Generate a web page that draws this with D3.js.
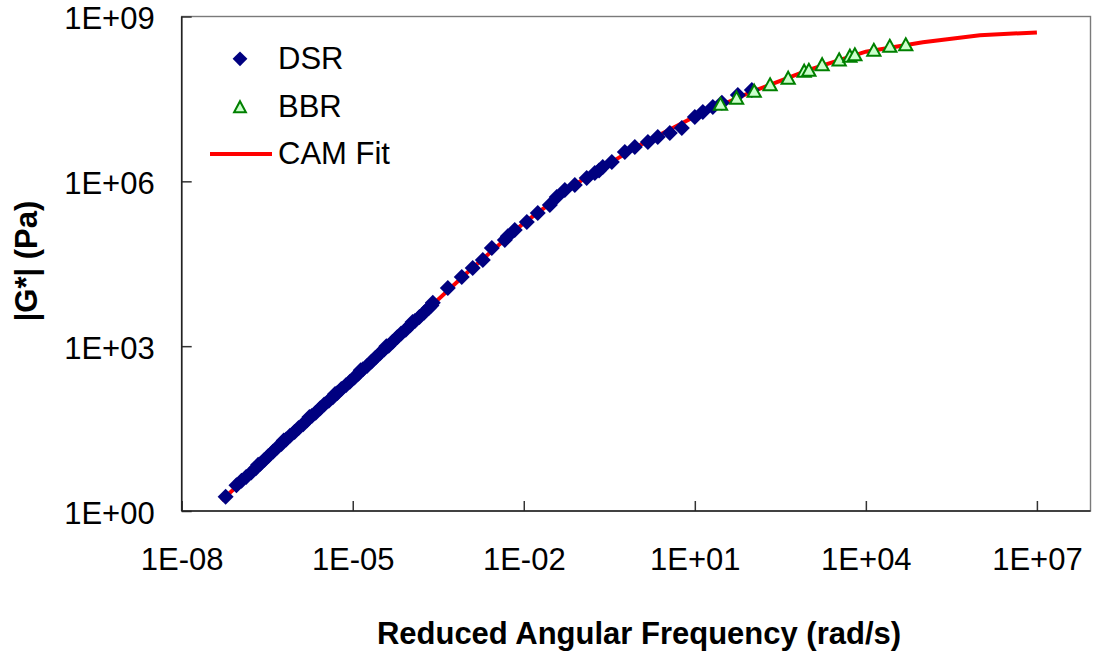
<!DOCTYPE html>
<html>
<head>
<meta charset="utf-8">
<script src="https://cdn.jsdelivr.net/npm/d3@7"></script>
<style>
  html, body { margin: 0; padding: 0; background: #fff; }
  svg { display: block; font-family: Arial, "Liberation Sans", sans-serif; }
</style>
</head>
<body>
<svg id="chart" width="1093" height="655"></svg>
<script>
// DSR master-curve data: reduced angular frequency (rad/s) and |G*| (Pa)
const dsrFreq = [
  5.89e-8, 9.12e-8, 1.12e-7, 1.35e-7, 1.66e-7, 2.00e-7, 2.19e-7, 2.40e-7, 2.82e-7, 3.31e-7,
  3.98e-7, 4.68e-7, 5.62e-7, 6.17e-7, 6.76e-7, 7.94e-7, 9.55e-7, 1.12e-6, 1.35e-6, 1.58e-6,
  1.74e-6, 1.91e-6, 2.24e-6, 2.69e-6, 3.16e-6, 3.80e-6, 4.47e-6, 4.90e-6, 5.37e-6, 6.31e-6,
  7.59e-6, 8.91e-6, 1.07e-5, 1.26e-5, 1.38e-5, 1.51e-5, 1.78e-5, 2.14e-5, 2.51e-5, 3.02e-5,
  3.55e-5, 3.89e-5, 4.27e-5, 5.01e-5, 6.03e-5, 7.08e-5, 8.51e-5, 1.02e-4, 1.12e-4, 1.23e-4,
  1.48e-4, 1.78e-4, 2.14e-4, 2.40e-4, 2.54e-4, 4.65e-4, 8.17e-4, 1.27e-3, 1.91e-3, 2.75e-3,
  4.65e-3, 5.25e-3, 6.95e-3, 1.13e-2, 1.76e-2, 2.86e-2, 3.79e-2, 5.24e-2, 7.85e-2, 0.127,
  0.176, 0.209, 0.243, 0.350, 0.592, 0.885, 1.50, 2.24, 3.64, 5.92,
  10.0, 13.8, 20.7, 29.8, 56.8, 100
];
const dsrModulus = [
  1.82, 2.95, 3.55, 4.17, 5.01, 6.03, 6.92, 7.24, 8.51, 10.0,
  12.0, 14.1, 16.6, 19.1, 20.0, 23.4, 27.5, 32.4, 38.0, 44.7,
  51.3, 53.7, 61.7, 74.1, 87.1, 102, 117, 135, 141, 166,
  195, 224, 269, 316, 363, 380, 437, 525, 617, 741,
  871, 1000, 1020, 1200, 1450, 1700, 2000, 2400, 2750, 2880,
  3390, 4070, 4900, 5500, 6170, 11400, 18100, 26400, 37000, 61100,
  85500, 1.00e5, 1.30e5, 1.82e5, 2.65e5, 3.71e5, 5.19e5, 6.97e5, 8.57e5, 1.15e6,
  1.42e6, 1.58e6, 1.82e6, 2.24e6, 3.41e6, 4.21e6, 5.19e6, 6.40e6, 7.57e6, 9.33e6,
  1.48e7, 1.82e7, 2.25e7, 2.69e7, 3.72e7, 4.59e7
];

// BBR data converted to the frequency domain
const bbrFreq = [28.2, 54.0, 110, 209, 434, 828, 1000, 1710, 3400, 5250, 6410, 13800, 26300, 50100];
const bbrModulus = [2.55e7, 3.29e7, 4.41e7, 5.78e7, 7.60e7, 1.02e8, 1.06e8, 1.34e8, 1.64e8, 1.91e8, 2.03e8, 2.45e8, 2.90e8, 3.09e8];

// Christensen-Anderson-Marasteanu (CAM) model fit
const camFreq = [5.0e-8, 1e-7, 1e-6, 1e-5, 1e-4, 1e-3, 1e-2, 1e-1, 1, 10, 100, 1e3, 1e4, 1e5, 1e6, 1e7];
const camModulus = [1.55, 3.02, 28.8, 251, 2340, 21400, 1.74e5, 1.02e6, 4.37e6, 1.51e7, 4.27e7, 1.07e8, 2.29e8, 3.39e8, 4.57e8, 5.13e8];

// Axis ticks
const xTickValues = [1e-8, 1e-5, 1e-2, 1e1, 1e4, 1e7];
const yTickValues = [1, 1e3, 1e6, 1e9];

const legendLabels = ["DSR", "BBR", "CAM Fit"];

const sciLabel = v => {
  const e = Math.round(Math.log10(v));
  return "1E" + (e < 0 ? "-" : "+") + String(Math.abs(e)).padStart(2, "0");
};

const svg = d3.select("#chart");
const plot = { left: 181.7, right: 1090.5, top: 16.5, bottom: 511 };

const x = d3.scaleLog().domain([1e-8, 1e7]).range([plot.left, 1036.9]);
const y = d3.scaleLog().domain([1, 1e9]).range([plot.bottom, plot.top]);

// Plot frame: grey top/right, dark axes on left/bottom
svg.append("rect")
  .attr("x", plot.left).attr("y", plot.top)
  .attr("width", plot.right - plot.left).attr("height", plot.bottom - plot.top)
  .attr("fill", "none").attr("stroke", "#7a7a7a").attr("stroke-width", 1.4);

const xAxis = d3.axisBottom(x).tickValues(xTickValues).tickFormat(sciLabel)
  .tickSizeInner(-10).tickSizeOuter(0).tickPadding(37);
const gx = svg.append("g").attr("transform", `translate(0,${plot.bottom})`).call(xAxis);
gx.select(".domain").remove();
gx.selectAll(".tick line").attr("stroke", "#333").attr("stroke-width", 1.5);
gx.selectAll(".tick text").attr("font-size", 31).attr("fill", "#000")
  .attr("font-family", "Arial, 'Liberation Sans', sans-serif");

const yAxis = d3.axisLeft(y).tickValues(yTickValues).tickFormat(sciLabel)
  .tickSizeInner(-10).tickSizeOuter(0).tickPadding(27);
const gy = svg.append("g").attr("transform", `translate(${plot.left},0)`).call(yAxis);
gy.select(".domain").remove();
gy.selectAll(".tick line").attr("stroke", "#333").attr("stroke-width", 1.5);
gy.selectAll(".tick text").attr("font-size", 31).attr("fill", "#000").attr("dy", "0.39em")
  .attr("font-family", "Arial, 'Liberation Sans', sans-serif");

svg.append("line")
  .attr("x1", plot.left).attr("x2", plot.left).attr("y1", plot.top).attr("y2", plot.bottom)
  .attr("stroke", "#222").attr("stroke-width", 1.6);
svg.append("line")
  .attr("x1", plot.left).attr("x2", plot.right).attr("y1", plot.bottom).attr("y2", plot.bottom)
  .attr("stroke", "#222").attr("stroke-width", 1.6);

// Marker shapes
const diamondPath = "M0,-8L8,0L0,8L-8,0Z";
const trianglePath = "M0,-6.3L6.6,5.8L-6.6,5.8Z";

// CAM fit line
const camData = camFreq.map((f, i) => ({ f, g: camModulus[i] }));
svg.append("path")
  .datum(camData)
  .attr("fill", "none")
  .attr("stroke", "#ff0000")
  .attr("stroke-width", 4)
  .attr("d", d3.line().x(d => x(d.f)).y(d => y(d.g)));

// DSR points
const dsrData = dsrFreq.map((f, i) => ({ f, g: dsrModulus[i] }));
svg.append("g").selectAll("path")
  .data(dsrData).join("path")
  .attr("d", diamondPath)
  .attr("transform", d => `translate(${x(d.f)},${y(d.g)})`)
  .attr("fill", "#000080");

// BBR points
const bbrData = bbrFreq.map((f, i) => ({ f, g: bbrModulus[i] }));
svg.append("g").selectAll("path")
  .data(bbrData).join("path")
  .attr("d", trianglePath)
  .attr("transform", d => `translate(${x(d.f)},${y(d.g)})`)
  .attr("fill", "#ccffcc")
  .attr("stroke", "#008000")
  .attr("stroke-width", 2);

// Legend
const legend = svg.append("g");
legend.append("path").attr("d", "M0,-7.4L7.4,0L0,7.4L-7.4,0Z").attr("transform", "translate(240,58.8)").attr("fill", "#000080");
legend.append("path").attr("d", "M0,-5.6L5.9,5.4L-5.9,5.4Z").attr("transform", "translate(240,106.8)")
  .attr("fill", "#ccffcc").attr("stroke", "#008000").attr("stroke-width", 2);
legend.append("line").attr("x1", 210).attr("x2", 272).attr("y1", 154).attr("y2", 154)
  .attr("stroke", "#ff0000").attr("stroke-width", 4);
legend.selectAll("text").data(legendLabels).join("text")
  .attr("x", 278)
  .attr("y", (d, i) => [69, 117, 164][i])
  .attr("font-size", 31)
  .attr("fill", "#000")
  .text(d => d);

// Axis titles
svg.append("text")
  .attr("x", 639).attr("y", 644)
  .attr("text-anchor", "middle")
  .attr("font-size", 31).attr("font-weight", "bold")
  .text("Reduced Angular Frequency (rad/s)");

svg.append("text")
  .attr("transform", "translate(36.5,261) rotate(-90)")
  .attr("text-anchor", "middle")
  .attr("font-size", 31).attr("font-weight", "bold")
  .text("|G*| (Pa)");
</script>
</body>
</html>
